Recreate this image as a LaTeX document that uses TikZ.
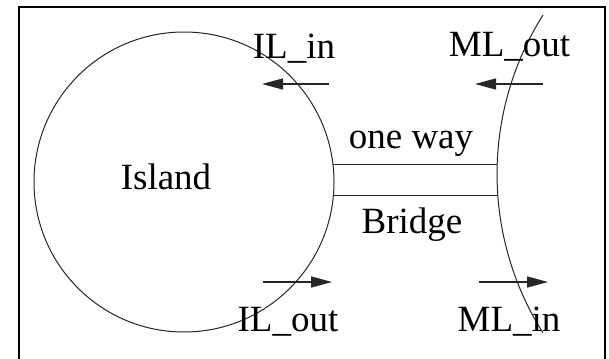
\documentclass[tikz,border=0pt]{standalone}
\usepackage{fontspec}
\setmainfont{Liberation Serif}
\usetikzlibrary{arrows.meta}
\begin{document}
\begin{tikzpicture}[x=1pt,y=-1pt,
  lbl/.style={inner sep=0pt,anchor=base,font=\fontsize{37}{44}\selectfont},
  thin line/.style={line width=1pt,draw=black!85},
  flow/.style={line width=1.3pt,draw=black!85,-{Triangle[length=21pt,width=11pt]}},
  frame/.style={line width=2.6pt,draw=black}]
\useasboundingbox (0,0) rectangle (609,358);
\clip (0,0) rectangle (609,358);
% frame
\coordinate (fbl) at (19,370);
\coordinate (ftl) at (19,7);
\coordinate (ftr) at (605,7);
\coordinate (fbr) at (605,370);
\draw[frame] (fbl) -- (ftl) -- (ftr) -- (fbr);
% island
\node[thin line,circle,minimum size=300pt,inner sep=0pt] (island) at (184,182) {};
\node[lbl] (islandlbl) at (166,189) {Island};
% mainland arc
\coordinate (mtop) at (543,15);
\draw[thin line] (mtop) arc[start angle=147.75,end angle=212.2,radius=298pt] coordinate (mbot);
% bridge
\coordinate (b1l) at (333,164);
\coordinate (b1r) at (497.2,164);
\coordinate (b2l) at (333.4,195);
\coordinate (b2r) at (497.5,195);
\draw[thin line] (b1l) -- (b1r);
\draw[thin line] (b2l) -- (b2r);
\node[lbl] (oneway) at (411,149) {one way};
\node[lbl] (bridge) at (412,233) {Bridge};
% labels
\node[lbl] (ilin) at (294,59) {IL\_in};
\node[lbl] (mlout) at (509.5,57) {ML\_out};
\node[lbl] (ilout) at (288,331) {IL\_out};
\node[lbl] (mlin) at (509,331) {ML\_in};
% arrows
\coordinate (a1s) at (329,84);
\coordinate (a1e) at (262,84);
\coordinate (a2s) at (543,84);
\coordinate (a2e) at (475,84);
\coordinate (a3s) at (263,282);
\coordinate (a3e) at (332,282);
\coordinate (a4s) at (479,282);
\coordinate (a4e) at (548,282);
\draw[flow] (a1s) -- (a1e);
\draw[flow] (a2s) -- (a2e);
\draw[flow] (a3s) -- (a3e);
\draw[flow] (a4s) -- (a4e);
\end{tikzpicture}
\end{document}
